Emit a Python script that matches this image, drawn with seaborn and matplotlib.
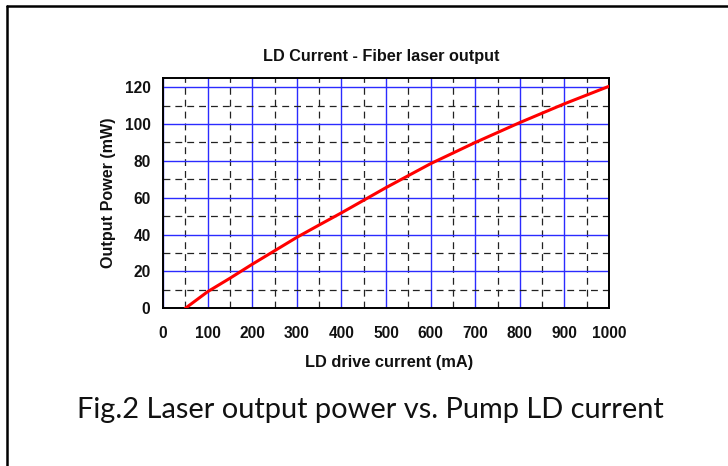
import matplotlib
matplotlib.use("Agg")
import matplotlib.pyplot as plt
import seaborn as sns
import pandas as pd
from matplotlib.lines import Line2D
from matplotlib.ticker import MultipleLocator

# ---- data ----
current_ma = [50, 100, 150, 200, 250, 300, 350, 400, 500, 600, 700, 800, 900, 1000]
power_mw = [0, 9.0, 16.3, 23.9, 31.2, 38.5, 45.2, 51.8, 65.5, 78.5, 90, 100.8, 111, 120.5]
x_ticks = [0, 100, 200, 300, 400, 500, 600, 700, 800, 900, 1000]
y_ticks = [0, 20, 40, 60, 80, 100, 120]
title = "LD Current - Fiber laser output"
x_label = "LD drive current (mA)"
y_label = "Output Power (mW)"
caption = "Fig.2 Laser output power vs. Pump LD current"

sns.set_theme(style="white")
plt.rcParams['font.family'] = ['Liberation Sans', 'DejaVu Sans']

W, H = 728, 466
fig = plt.figure(figsize=(W / 100, H / 100), dpi=100)
fig.patch.set_facecolor('white')
ax = fig.add_axes([163 / W, 1 - 308.3 / H, 446 / W, 230.3 / H])

df = pd.DataFrame({"current": current_ma, "power": power_mw})
sns.lineplot(data=df, x="current", y="power", ax=ax, color="#ff0000",
             linewidth=2.2, zorder=5)

ax.set_xlim(0, 1000)
ax.set_ylim(0, 125)
ax.set_xticks(x_ticks)
ax.set_yticks(y_ticks)
ax.set_xticklabels([str(v) for v in x_ticks], fontweight="bold", fontsize=11.2, color="#111111")
ax.set_yticklabels([str(v) for v in y_ticks], fontweight="bold", fontsize=11.2, color="#111111")
ax.xaxis.set_minor_locator(MultipleLocator(50))
ax.yaxis.set_minor_locator(MultipleLocator(10))
ax.tick_params(which="both", length=0)
ax.tick_params(axis="x", pad=13)
ax.tick_params(axis="y", pad=9)
ax.set_axisbelow(True)
ax.grid(which="major", color="#2b2bff", linewidth=1.0, linestyle="-")
ax.grid(which="minor", color="#222222", linewidth=0.9, linestyle=(0, (5.5, 4)))
ax.set_xlabel("")
ax.set_ylabel("")
for s in ax.spines.values():
    s.set_visible(True)
    s.set_color("black")
    s.set_linewidth(1.4)
ax.set_facecolor("white")

renderer = fig.canvas.get_renderer()


def fitted_text(x, y, s, target_px, size, vertical=False, **kw):
    t = fig.text(x / W, 1 - y / H, s, ha="center", va="center", fontsize=size, **kw)
    bb = t.get_window_extent(renderer=renderer)
    cur = bb.height if vertical else bb.width
    if cur > 0:
        t.set_fontsize(size * target_px / cur)
    return t


fitted_text(381, 57, title, 239, 10.5, fontweight="bold", color="#111111")
fitted_text(389.5, 362, x_label, 169, 10.5, fontweight="bold", color="#111111")
fitted_text(108, 192.5, y_label, 151, 10.5, vertical=True, rotation=90,
            fontweight="bold", color="#111111")
fitted_text(370.5, 410, caption, 589, 19, family=["Lato", "DejaVu Sans"], color="#111111")

# outer border (left and top)
fig.add_artist(Line2D([6.5 / W, 6.5 / W], [0, 1 - 5.5 / H], transform=fig.transFigure,
                      color="black", linewidth=1.8))
fig.add_artist(Line2D([6.5 / W, 1], [1 - 5.5 / H, 1 - 5.5 / H], transform=fig.transFigure,
                      color="black", linewidth=1.8))

fig.savefig("out.png", dpi=100)
